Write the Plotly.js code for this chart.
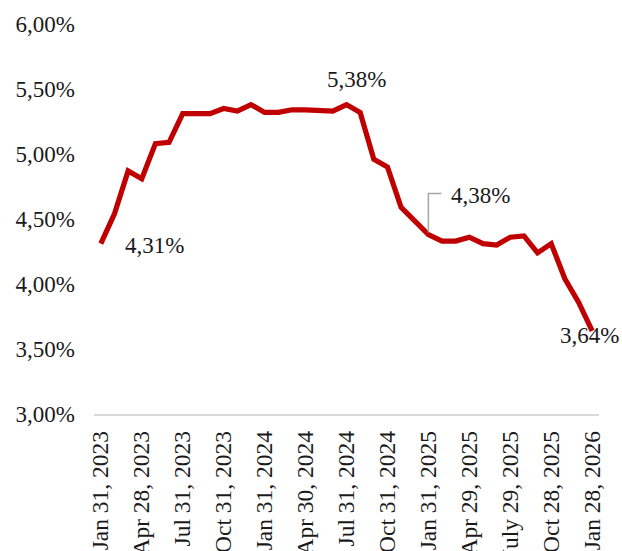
<!DOCTYPE html>
<html>
<head>
<meta charset="utf-8">
<script src="https://cdn.plot.ly/plotly-3.0.1.min.js"></script>
<style>html,body{margin:0;padding:0;background:#fff;}#chart{width:622px;height:551px;}</style>
</head>
<body>
<div id="chart"></div>
<script>
// Monthly rate, Jan 2023 .. Jan 2026 (37 months), in percent
const rates = [
  4.31, 4.54, 4.87, 4.81, 5.08, 5.09, 5.31, 5.31, 5.31, 5.35, 5.33, 5.38,
  5.32, 5.32, 5.34, 5.34, 5.34, 5.33, 5.38, 5.32, 4.96, 4.90, 4.59, 4.49,
  4.38, 4.33, 4.33, 4.36, 4.31, 4.30, 4.36, 4.37, 4.24, 4.31, 4.04, 3.86,
  3.64
];
// Tick labels shown every third month
const tickLabels = [
  "Jan 31, 2023", "Apr 28, 2023", "Jul 31, 2023", "Oct 31, 2023",
  "Jan 31, 2024", "Apr 30, 2024", "Jul 31, 2024", "Oct 31, 2024",
  "Jan 31, 2025", "Apr 29, 2025", "July 29, 2025", "Oct 28, 2025",
  "Jan 28, 2026"
];
const yTicks = [3.0, 3.5, 4.0, 4.5, 5.0, 5.5, 6.0];
// Labelled points (index into rates)
const labelled = [0, 18, 24, 36];

const xIdx = rates.map((_, i) => i);
const tickVals = tickLabels.map((_, i) => i * 3);
const fmt = v => v.toFixed(2).replace('.', ',') + '%';
const FONT = "Liberation Serif, Times New Roman, serif";
const TXT = "#1a1a1a";

const trace = {
  x: xIdx, y: rates, type: 'scatter', mode: 'lines',
  line: {color: '#C00000', width: 5.2}, hoverinfo: 'skip'
};

const annPos = {
  0:  {xanchor: 'left', xshift: 22, yshift: -2},
  18: {xanchor: 'center', xshift: 10, yshift: 25},
  24: {xanchor: 'center', xshift: 52, yshift: 39},
  36: {xanchor: 'center', xshift: -3, yshift: -5}
};
const annotations = labelled.map(i => Object.assign({
  x: i, y: rates[i], xref: 'x', yref: 'y', text: fmt(rates[i]),
  showarrow: false, yanchor: 'middle',
  font: {family: FONT, size: 23, color: TXT}
}, annPos[i]));

const shapes = [{
  type: 'path', xref: 'x', yref: 'y',
  xsizemode: 'pixel', ysizemode: 'pixel',
  xanchor: 24, yanchor: rates[24],
  path: 'M0,2 L0,41 L13,41',
  line: {color: '#a6a6a6', width: 1.5}
}];

const layout = {
  width: 622, height: 551,
  margin: {l: 94, r: 23, t: 24, b: 137},
  paper_bgcolor: '#fff', plot_bgcolor: '#fff',
  separators: ', ',
  showlegend: false,
  font: {family: FONT, size: 23, color: TXT},
  xaxis: {
    range: [-0.5, 36.5], tickmode: 'array', tickvals: tickVals, ticktext: tickLabels,
    tickangle: -90, showgrid: false, zeroline: false, ticks: '',
    showline: true, linecolor: '#d9d9d9', linewidth: 1.5,
    ticklabelstandoff: 6,
    tickfont: {family: FONT, size: 23.5, color: TXT}, automargin: false
  },
  yaxis: {
    range: [3, 6], tickmode: 'array', tickvals: yTicks,
    ticktext: yTicks.map(fmt),
    showgrid: false, zeroline: false, showline: false, ticks: '',
    ticklabelstandoff: 18,
    tickfont: {family: FONT, size: 23, color: TXT}, automargin: false
  },
  annotations: annotations,
  shapes: shapes
};

Plotly.newPlot('chart', [trace], layout, {staticPlot: true, displayModeBar: false});
</script>
</body>
</html>
